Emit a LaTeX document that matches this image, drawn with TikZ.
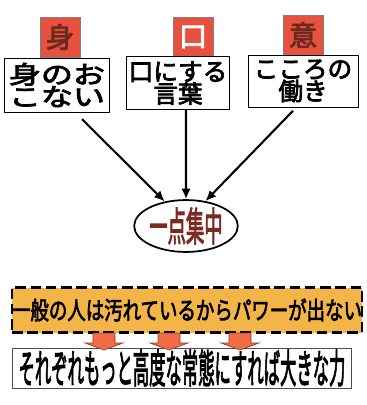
\documentclass[tikz,border=0pt]{standalone}
\usepackage{fontspec}
\newfontfamily\jp[FakeBold=3]{Noto Sans CJK JP}
\usetikzlibrary{arrows.meta,shapes.geometric}

\definecolor{kanjired}{HTML}{E8503F}
\definecolor{kanjiink}{HTML}{6A2A20}
\definecolor{dashfill}{HTML}{F4B548}
\definecolor{arrowfill}{HTML}{F26B47}
\definecolor{focusink}{HTML}{7A2C22}

\tikzset{
  kanjibox/.style={draw=black!50, fill=kanjired, minimum size=1.2cm, inner sep=0pt,
    font=\jp\fontsize{24}{24}\selectfont},
  wordbox/.style={draw, line width=0.8pt, fill=white, inner sep=0pt, align=center,
    font=\jp\fontsize{21}{19}\selectfont},
  focus/.style={ellipse, draw, line width=1.5pt, inner sep=0pt,
    minimum width=2.91cm, minimum height=1.29cm, text=focusink,
    font=\jp\fontsize{34}{34}\selectfont},
  noticebox/.style={draw, dashed, dash pattern=on 9pt off 4pt, line width=2pt,
    fill=dashfill, minimum width=10.5cm, minimum height=1.35cm, inner sep=0pt,
    font=\jp\fontsize{21}{21}\selectfont},
  resultbox/.style={draw=black!70, line width=0.8pt, fill=white, minimum width=10.17cm,
    minimum height=1.2cm, inner sep=0pt, font=\jp\fontsize{34}{34}\selectfont},
  flow/.style={-{Latex[length=9pt,width=8pt]}, line width=1.8pt},
  downarrow/.style={fill=arrowfill, draw=arrowfill!60!black, line width=0.6pt}
}

\begin{document}
\begin{tikzpicture}[x=0.03cm, y=-0.03cm]
  \useasboundingbox (0,0) rectangle (366,405);

  % --- three red kanji and their boxes ---
  \node[kanjibox, text=kanjiink] (mi) at (60,37) {身};
  \node[kanjibox, text=white] (kuchi) at (193,37) {口};
  \node[kanjibox, text=kanjiink] (i) at (303,35) {意};

  \node[wordbox, minimum width=3.15cm, minimum height=1.62cm] (body) at (57,85)
    {\scalebox{1.3}[1]{身のお}\\\scalebox{1.3}[1]{こない}};
  \node[wordbox, minimum width=3.09cm, minimum height=1.59cm] (word) at (178,83)
    {口にする\\言葉};
  \node[wordbox, minimum width=3.3cm, minimum height=1.56cm] (mind) at (303,81)
    {こころの\\働き};
  % ---

  % --- arrows into the focus ---
  \node[focus] (point) at (186,226) {\scalebox{0.46}[1]{一点集中}};

  \draw[flow] ([xshift=0.75cm, yshift=-0.2cm]body.south) -- (point.131);
  \draw[flow] ([xshift=0.24cm]word.south) -- (point.90);
  \draw[flow] ([xshift=-0.3cm, yshift=-0.1cm]mind.south) -- (point.52);
  % ---

  % --- lower statement and result ---
  \node[noticebox] (plain) at (187,310)
    {\scalebox{0.75}[1]{一般の人は汚れているからパワーが出ない}};
  \node[resultbox] (result) at (182,368)
    {\scalebox{0.41}[1]{それぞれもっと高度な常態にすれば大きな力}};

  \foreach \ax in {104,169,240}
    \filldraw[downarrow] (\ax-11,333) -- (\ax+11,333) -- (\ax+11,343) -- (\ax+19,343)
      -- (\ax,350) -- (\ax-19,343) -- (\ax-11,343) -- cycle;
  % ---
\end{tikzpicture}
\end{document}
